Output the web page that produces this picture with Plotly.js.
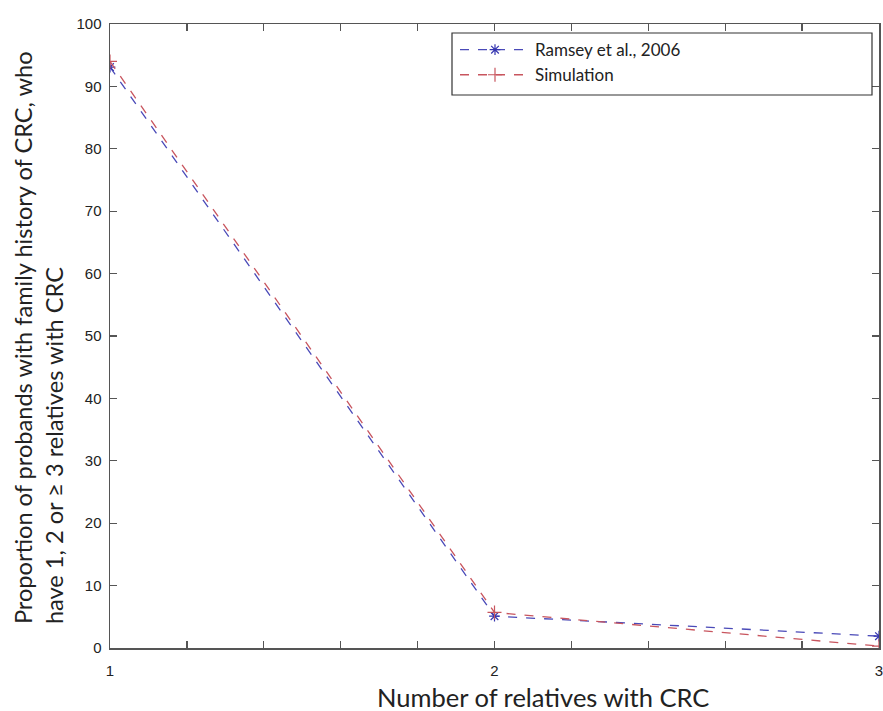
<!DOCTYPE html>
<html>
<head>
<meta charset="utf-8">
<script src="https://cdn.plot.ly/plotly-3.0.1.min.js"></script>
<style>html,body{margin:0;padding:0;background:#fff;}#chart{width:883px;height:711px;}</style>
</head>
<body>
<div id="chart"></div>
<script>
// Data
const relatives = [1, 2, 3];
const ramsey2006 = [93.1, 5.1, 1.9];
const simulation = [94.0, 5.7, 0.3];
const seriesNames = ["Ramsey et al., 2006", "Simulation"];
const xTickVals = [1, 1.2, 1.4, 1.6, 1.8, 2, 2.2, 2.4, 2.6, 2.8, 3];
const xTickText = ["1", "", "", "", "", "2", "", "", "", "", "3"];
const yTickVals = [0, 10, 20, 30, 40, 50, 60, 70, 80, 90, 100];
const xTitle = "Number of relatives with CRC";
const yTitleLines = ["Proportion of probands with family history of CRC, who", "have 1, 2 or \u2265 3 relatives with CRC"];

const titleFont = "Lato, Open Sans, sans-serif";

const traces = [
  {
    x: relatives, y: ramsey2006, name: seriesNames[0], type: "scatter", mode: "lines+markers",
    line: {color: "#4a4ab8", width: 1.3, dash: "dash"},
    marker: {symbol: "asterisk-open", size: 9, color: "#3535b0", line: {color: "#3535b0", width: 1.2}}
  },
  {
    x: relatives, y: simulation, name: seriesNames[1], type: "scatter", mode: "lines+markers",
    line: {color: "#c8555e", width: 1.3, dash: "dash"},
    marker: {symbol: "cross-thin-open", size: 10, color: "#c8555e", line: {color: "#c8555e", width: 1.2}}
  }
];

const axisCommon = {
  showgrid: false, zeroline: false, showline: true, linecolor: "#555", linewidth: 1.5,
  mirror: "ticks", ticks: "inside", ticklen: 7, tickcolor: "#555", tickwidth: 1.3,
  tickfont: {family: "Liberation Sans, Arial, sans-serif", size: 15, color: "#222"}
};

const layout = {
  width: 883, height: 711,
  margin: {l: 110, r: 4, t: 24, b: 63},
  paper_bgcolor: "#fff", plot_bgcolor: "#fff",
  showlegend: true,
  legend: {
    x: (455 - 110) / 769, xanchor: "left", y: 0.987, yanchor: "top",
    bgcolor: "rgba(0,0,0,0)", borderwidth: 0,
    font: {family: titleFont, size: 17, color: "#222"},
    itemwidth: 70, tracegroupgap: 0
  },
  shapes: [{
    type: "rect", xref: "paper", yref: "paper", layer: "above",
    x0: (452 - 110) / 769, x1: (872 - 110) / 769, y0: (648 - 95) / 624, y1: (648 - 33) / 624,
    line: {color: "#333", width: 1.2}, fillcolor: "rgba(255,255,255,0)"
  }],
  xaxis: Object.assign({}, axisCommon, {
    range: [1, 3], tickvals: xTickVals, ticktext: xTickText, ticklabelstandoff: 8,
    ticklabeloverflow: "allow"
  }),
  yaxis: Object.assign({}, axisCommon, {
    range: [0, 100], tickvals: yTickVals, ticklabelstandoff: 4
  }),
  annotations: [
    {
      xref: "paper", yref: "paper", x: -0.092, y: 0.497, xanchor: "center", yanchor: "middle",
      textangle: -90, align: "left", showarrow: false,
      text: yTitleLines.join("<br>"),
      font: {family: titleFont, size: 23.6, color: "#222"}
    },
    {
      xref: "paper", yref: "paper", x: (543 - 110) / 769, y: -0.078, xanchor: "center", yanchor: "middle",
      showarrow: false, text: xTitle,
      font: {family: titleFont, size: 25.5, color: "#222"}
    }
  ]
};

Plotly.newPlot("chart", traces, layout, {displayModeBar: false, staticPlot: true});
</script>
</body>
</html>
